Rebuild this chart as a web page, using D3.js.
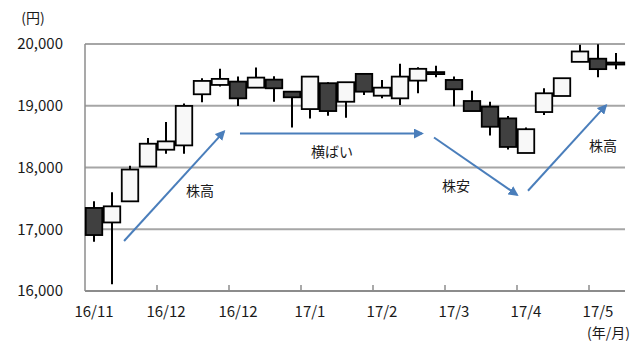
<!DOCTYPE html>
<html>
<head>
<meta charset="utf-8">
<script src="https://cdn.jsdelivr.net/npm/d3@7"></script>
<style>
  body { margin: 0; background: #fff; }
  text { font-family: "Noto Sans CJK JP", "Noto Sans", sans-serif; fill: #1a1a1a; }
</style>
</head>
<body>
<div class="chart"></div>
<script>
// weekly candles, 16/11 -> 17/5 (30 weeks)
const opens  = [17345, 17110, 17452, 18016, 18288, 18358, 19186, 19337, 19391, 19293,
                19423, 19228, 18946, 19365, 19065, 19516, 19163, 19120, 19407, 19545,
                19418, 19077, 18985, 18795, 18235, 18898, 19158, 19711, 19762, 19700];
const highs  = [17452, 17598, 18030, 18477, 18737, 19036, 19446, 19598, 19472, 19619,
                19479, 19228, 19472, 19381, 19381, 19516, 19418, 19680, 19625, 19647,
                19472, 19241, 19065, 18832, 18648, 19283, 19446, 19988, 19995, 19853];
const lows   = [16797, 16109, 17452, 18016, 18222, 18222, 19055, 19310, 18995, 19293,
                19065, 18648, 18795, 18837, 18805, 19174, 19120, 19011, 19202, 19462,
                18990, 18914, 18518, 18290, 18235, 18849, 19158, 19711, 19462, 19593];
const closes = [16906, 17371, 17967, 18385, 18423, 18997, 19402, 19435, 19120, 19456,
                19283, 19137, 19472, 18914, 19381, 19228, 19293, 19472, 19598, 19530,
                19267, 18914, 18660, 18333, 18620, 19202, 19446, 19879, 19593, 19685];

const tickLabels = ['16/11', '16/12', '16/12', '17/1', '17/2', '17/3', '17/4', '17/5'];
const yTicks = [16000, 17000, 18000, 19000, 20000];

// trend arrows and their captions, in (week, price) units
const arrows = [
  { x1: 2.17, y1: 16810, x2: 7.72, y2: 18582 },
  { x1: 8.61, y1: 18550, x2: 18.72, y2: 18550 },
  { x1: 19.39, y1: 18485, x2: 24.0, y2: 17558 },
  { x1: 24.61, y1: 17623, x2: 28.94, y2: 19005 }
];
const notes = [
  { x: 6.39, y: 17610, text: '株高' },
  { x: 13.72, y: 18256, text: '横ばい' },
  { x: 20.61, y: 17703, text: '株安' },
  { x: 28.78, y: 18354, text: '株高' }
];

const W = 632, H = 343;
const margin = { top: 44, right: 7, bottom: 52, left: 85 };
const width = W - margin.left - margin.right;
const height = H - margin.top - margin.bottom;

const weeks = d3.range(opens.length);

const x = d3.scaleBand().domain(weeks).range([0, width]).padding(0);
const xl = d3.scaleLinear().domain([0, weeks.length]).range([0, width]);
const y = d3.scaleLinear().domain([16000, 20000]).range([height, 0]);

const svg = d3.select('.chart').append('svg')
  .attr('width', W).attr('height', H)
  .append('g')
  .attr('transform', 'translate(' + margin.left + ',' + margin.top + ')');

svg.append('defs').append('marker')
  .attr('id', 'head')
  .attr('viewBox', '0 0 10 10')
  .attr('refX', 8).attr('refY', 5)
  .attr('markerWidth', 5).attr('markerHeight', 5)
  .attr('orient', 'auto')
  .append('path').attr('d', 'M0,0 L10,5 L0,10 z').attr('fill', '#4a7ebb');

// gridlines
svg.selectAll('.grid').data(yTicks.slice(1)).enter().append('line')
  .attr('x1', 0).attr('x2', width)
  .attr('y1', d => y(d)).attr('y2', d => y(d))
  .attr('stroke', '#a6a6a6').attr('stroke-width', 1.8);

// y labels
svg.selectAll('.ylab').data(yTicks).enter().append('text')
  .attr('x', -22).attr('y', d => y(d))
  .attr('dy', '0.35em')
  .attr('text-anchor', 'end')
  .style('font-size', '15px')
  .text(d => d3.format(',')(d));

svg.append('text').attr('x', -52).attr('y', -26).attr('dy', '0.35em')
  .attr('text-anchor', 'middle').style('font-size', '14px').text('(円)');

// axes lines
svg.append('line').attr('x1', 0).attr('x2', 0).attr('y1', 0).attr('y2', height)
  .attr('stroke', '#8c8c8c').attr('stroke-width', 1.5);
svg.append('line').attr('x1', 0).attr('x2', width).attr('y1', height).attr('y2', height)
  .attr('stroke', '#8c8c8c').attr('stroke-width', 1.8);

// x ticks every 4 weeks, pointing up
svg.selectAll('.xtick').data(d3.range(4, weeks.length, 4)).enter().append('line')
  .attr('x1', d => xl(d)).attr('x2', d => xl(d))
  .attr('y1', height).attr('y2', height - 6)
  .attr('stroke', '#8c8c8c').attr('stroke-width', 1.5);

svg.selectAll('.xlab').data(tickLabels).enter().append('text')
  .attr('x', (d, i) => x(i * 4) + x.bandwidth() / 2)
  .attr('y', height + 21)
  .attr('dy', '0.35em')
  .attr('text-anchor', 'middle')
  .style('font-size', '15px')
  .text(d => d);

svg.append('text').attr('x', width + 5).attr('y', height + 42).attr('dy', '0.35em')
  .attr('text-anchor', 'end').style('font-size', '14px').text('(年/月)');

// candles
const candles = svg.selectAll('.candle').data(weeks).enter().append('g').attr('class', 'candle');

candles.append('line')
  .attr('x1', i => x(i) + x.bandwidth() / 2).attr('x2', i => x(i) + x.bandwidth() / 2)
  .attr('y1', i => y(highs[i])).attr('y2', i => y(lows[i]))
  .attr('stroke', '#000').attr('stroke-width', 2);

candles.append('rect')
  .attr('x', i => x(i) + 0.75)
  .attr('width', x.bandwidth() - 1.5)
  .attr('y', i => y(Math.max(opens[i], closes[i])))
  .attr('height', i => Math.max(2, Math.abs(y(opens[i]) - y(closes[i]))))
  .attr('fill', i => closes[i] >= opens[i] ? '#f8f8f8' : '#404040')
  .attr('stroke', '#000').attr('stroke-width', 1.8);

// arrows
svg.selectAll('.arrow').data(arrows).enter().append('line')
  .attr('x1', d => xl(d.x1)).attr('y1', d => y(d.y1))
  .attr('x2', d => xl(d.x2)).attr('y2', d => y(d.y2))
  .attr('stroke', '#4a7ebb').attr('stroke-width', 2)
  .attr('marker-end', 'url(#head)');

svg.selectAll('.note').data(notes).enter().append('text')
  .attr('x', d => xl(d.x)).attr('y', d => y(d.y))
  .attr('dy', '0.35em')
  .attr('text-anchor', 'middle')
  .style('font-size', '14px')
  .text(d => d.text);
</script>
</body>
</html>
